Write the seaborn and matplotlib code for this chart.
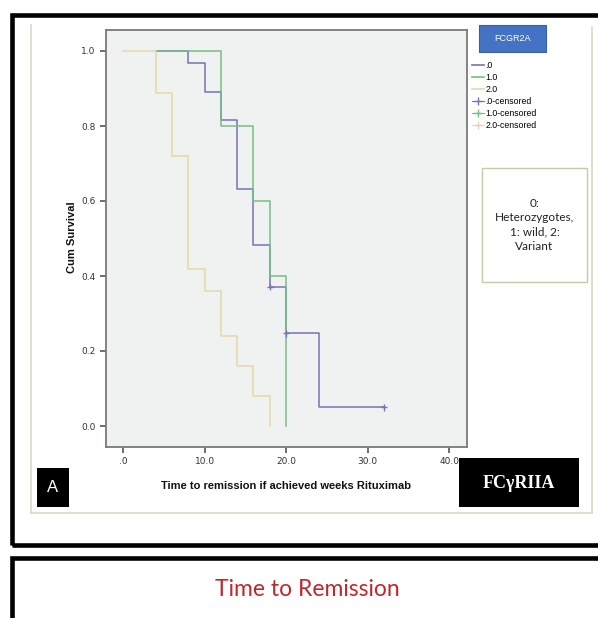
import pandas as pd
import matplotlib.pyplot as plt
import seaborn as sns
from matplotlib.patches import Rectangle
from matplotlib.lines import Line2D

# Kaplan-Meier step values
groups = ['.0', '1.0', '2.0']
times_0 = [4, 8, 10, 12, 14, 16, 18, 20, 24, 32]
surv_0 = [1.0, 0.967, 0.891, 0.816, 0.631, 0.483, 0.371, 0.247, 0.05, 0.05]
times_1 = [4, 12, 16, 18, 20]
surv_1 = [1.0, 0.8, 0.6, 0.4, 0.0]
times_2 = [0, 4, 6, 8, 10, 12, 14, 16, 18]
surv_2 = [1.0, 0.889, 0.72, 0.42, 0.36, 0.24, 0.16, 0.08, 0.0]
cens_times_0 = [18, 20, 32]
cens_surv_0 = [0.371, 0.247, 0.05]
x_ticks = [0, 10, 20, 30, 40]
x_tick_labels = ['.0', '10.0', '20.0', '30.0', '40.0']
y_ticks = [0.0, 0.2, 0.4, 0.6, 0.8, 1.0]
y_tick_labels = ['0.0', '0.2', '0.4', '0.6', '0.8', '1.0']

colors = {'.0': '#7275b4', '1.0': '#76bd84', '2.0': '#e2d9a9'}

curves = pd.concat([
    pd.DataFrame({'time': times_0, 'surv': surv_0, 'group': '.0'}),
    pd.DataFrame({'time': times_1, 'surv': surv_1, 'group': '1.0'}),
    pd.DataFrame({'time': times_2, 'surv': surv_2, 'group': '2.0'}),
])
censored = pd.DataFrame({'time': cens_times_0, 'surv': cens_surv_0, 'group': '.0'})

W, H = 598, 618
fig = plt.figure(figsize=(W / 100, H / 100), dpi=100)
fig.patch.set_facecolor('white')


def fx(px):
    return px / W


def fy(py):
    return 1 - py / H


# frames around the panel
fig.add_artist(Rectangle((fx(11.5), fy(545)), fx(620), fy(15) - fy(545), fill=False,
                         lw=3.3, ec='black', transform=fig.transFigure))
fig.add_artist(Rectangle((fx(11.5), fy(640)), fx(620), fy(558) - fy(640), fill=False,
                         lw=3.3, ec='black', transform=fig.transFigure))
beige = '#d9d9c4'
fig.add_artist(Line2D([fx(31), fx(31)], [fy(25), fy(513)], color=beige, lw=1.2, transform=fig.transFigure))
fig.add_artist(Line2D([fx(592), fx(592)], [fy(27), fy(513)], color=beige, lw=1.2, transform=fig.transFigure))
fig.add_artist(Line2D([fx(31), fx(592)], [fy(513), fy(513)], color=beige, lw=1.2, transform=fig.transFigure))

ax = fig.add_axes([fx(106), fy(447), fx(467) - fx(106), fy(30) - fy(447)])
ax.set_facecolor('#f0f1f1')

sns.lineplot(data=curves, x='time', y='surv', hue='group', hue_order=groups,
             palette=colors, drawstyle='steps-post', estimator=None, sort=False,
             linewidth=1.1, legend=False, ax=ax)
sns.scatterplot(data=censored, x='time', y='surv', hue='group', palette=colors,
                marker='+', s=22, linewidth=1.0, legend=False, ax=ax, zorder=5)

ax.set_xlim(-2.1, 42.2)
ax.set_ylim(-0.056, 1.056)
ax.set_xticks(x_ticks)
ax.set_xticklabels(x_tick_labels)
ax.set_yticks(y_ticks)
ax.set_yticklabels(y_tick_labels)
ax.tick_params(axis='both', labelsize=6.5, colors='#555555', length=4, width=1.2, labelcolor='#333333')
for s in ax.spines.values():
    s.set_color('#7a7a7a')
    s.set_linewidth(1.3)
ax.set_xlabel('')
ax.set_ylabel('')

fig.text(fx(72), fy(237), 'Cum Survival', rotation=90, ha='center', va='center',
         fontsize=8, fontweight='bold', family='Liberation Sans', color='#111111')
fig.text(fx(286), fy(486), 'Time to remission if achieved weeks Rituximab', ha='center', va='center',
         fontsize=8, fontweight='bold', family='Liberation Sans', color='#111111')

# "A" tag
fig.add_artist(Rectangle((fx(37), fy(507)), fx(69) - fx(37), fy(468) - fy(507), fc='black',
                         ec='none', transform=fig.transFigure))
fig.text(fx(53), fy(488), 'A', ha='center', va='center', fontsize=12, color='white',
         family='Liberation Sans')

# FCγRIIA tag
fig.add_artist(Rectangle((fx(459), fy(507)), fx(579) - fx(459), fy(458) - fy(507), fc='black',
                         ec='none', transform=fig.transFigure))
fig.text(fx(519), fy(483), 'FCγRIIA', ha='center', va='center', fontsize=13, color='white',
         family='Liberation Serif', fontweight='bold')

# legend title box
fig.add_artist(Rectangle((fx(479), fy(52)), fx(546) - fx(479), fy(25) - fy(52), fc='#4472c4',
                         ec='#3a5f9f', lw=0.8, transform=fig.transFigure))
fig.text(fx(512.5), fy(38.5), 'FCGR2A', ha='center', va='center', fontsize=6.5, color='white',
         family='Liberation Sans')

handles = [Line2D([], [], color=colors[g], lw=1.2) for g in groups]
handles += [Line2D([], [], color=colors[g], marker='+', ls='-', lw=0.8, ms=6) for g in groups]
labels = groups + [g + '-censored' for g in groups]
fig.legend(handles, labels, loc='upper left', bbox_to_anchor=(fx(466), fy(55)), frameon=False,
           prop={'family': 'Liberation Sans', 'size': 6.3}, handlelength=1.3, handletextpad=0.2,
           labelspacing=0.35, borderpad=0.2)

# key box
fig.add_artist(Rectangle((fx(482), fy(282)), fx(587) - fx(482), fy(168) - fy(282), fill=False,
                         ec='#c9c9a8', lw=1.0, transform=fig.transFigure))
fig.text(fx(534.5), fy(225), '0:\nHeterozygotes,\n1: wild, 2:\nVariant', ha='center', va='center',
         fontsize=8.5, color='#222222', family='Lato', linespacing=1.35)

fig.text(fx(307), fy(590), 'Time to Remission', ha='center', va='center', fontsize=16.5,
         color='#c0272d', family='Lato')

fig.savefig('out.png', dpi=100)
